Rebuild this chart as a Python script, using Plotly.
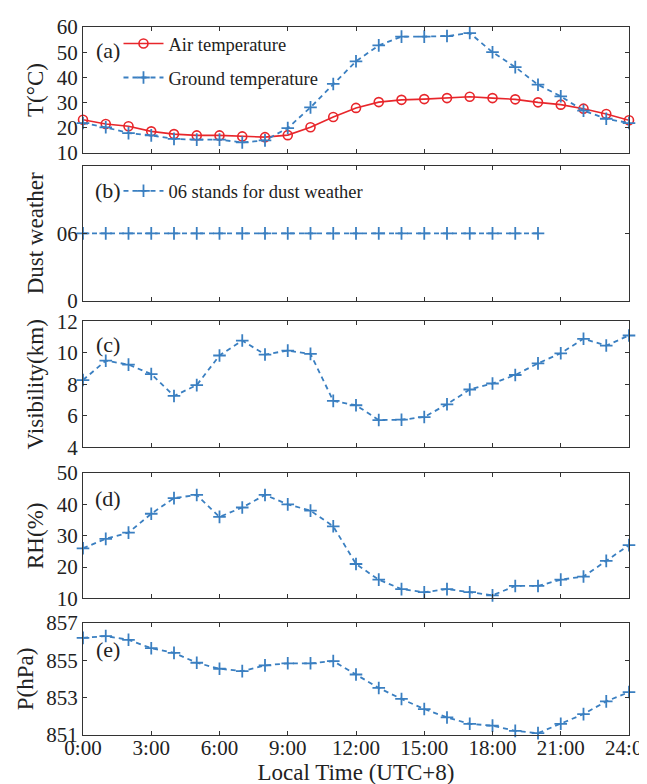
import plotly.graph_objects as go

hours = list(range(25))
air_temp = [23.2, 21.5, 20.6, 18.6, 17.5, 17.0, 17.0, 16.6, 16.3, 17.1, 20.2, 24.3, 27.9,
            30.2, 31.1, 31.4, 31.8, 32.3, 31.8, 31.3, 30.1, 29.2, 27.6, 25.5, 23.0]
ground_temp = [21.9, 20.2, 17.9, 17.0, 15.6, 15.3, 15.3, 14.2, 15.0, 19.9, 28.1, 37.4, 46.4,
               52.7, 56.2, 56.2, 56.4, 57.6, 50.0, 44.1, 37.1, 32.5, 26.8, 23.6, 21.9]
dust_hours = list(range(21))
dust_code = [6] * 21
visibility = [8.27, 9.5, 9.25, 8.65, 7.26, 7.95, 9.83, 10.78, 9.89, 10.14, 9.93, 6.95, 6.67,
              5.73, 5.75, 5.92, 6.73, 7.67, 8.05, 8.59, 9.33, 9.97, 10.89, 10.46, 11.1]
rh = [26, 29, 31, 37, 42, 43, 36, 39, 43, 40, 38, 33, 21, 16, 13, 12, 13, 12, 11, 14, 14, 16, 17, 22, 27]
pressure = [856.2, 856.3, 856.1, 855.65, 855.4, 854.87, 854.55, 854.42, 854.73, 854.84, 854.84,
            854.96, 854.24, 853.52, 852.93, 852.39, 851.94, 851.6, 851.5, 851.22, 851.1, 851.6,
            852.12, 852.8, 853.3]
x_tickvals = list(range(0, 25, 3))
x_ticktext = ["0:00", "3:00", "6:00", "9:00", "12:00", "15:00", "18:00", "21:00", "24:00"]

RED = "#E8262B"
BLUE = "#3A7FC1"
FONT = "Liberation Serif"
AX = "#333333"
TXT = "#222222"

fig = go.Figure()

dash_line = dict(color=BLUE, width=1.8, dash="5px,4px")
cross = dict(symbol="cross-thin", size=9, color=BLUE, line=dict(width=1.8, color=BLUE))

fig.add_trace(go.Scatter(x=hours, y=air_temp, mode="lines+markers", name="Air temperature",
                         line=dict(color=RED, width=1.6),
                         marker=dict(symbol="circle-open", size=9, color=RED, line=dict(width=1.6, color=RED)),
                         xaxis="x", yaxis="y", legend="legend", cliponaxis=False))
fig.add_trace(go.Scatter(x=hours, y=ground_temp, mode="lines+markers", name="Ground temperature",
                         line=dash_line, marker=cross, xaxis="x", yaxis="y", legend="legend2", cliponaxis=False))
fig.add_trace(go.Scatter(x=dust_hours, y=dust_code, mode="lines+markers", name="06 stands for dust weather",
                         line=dash_line, marker=cross, xaxis="x2", yaxis="y2", legend="legend3", cliponaxis=False))
fig.add_trace(go.Scatter(x=hours, y=visibility, mode="lines+markers", showlegend=False,
                         line=dash_line, marker=cross, xaxis="x3", yaxis="y3", cliponaxis=False))
fig.add_trace(go.Scatter(x=hours, y=rh, mode="lines+markers", showlegend=False,
                         line=dash_line, marker=cross, xaxis="x4", yaxis="y4", cliponaxis=False))
fig.add_trace(go.Scatter(x=hours, y=pressure, mode="lines+markers", showlegend=False,
                         line=dash_line, marker=cross, xaxis="x5", yaxis="y5", cliponaxis=False))

domains = [[0.822, 1.0], [0.6134, 0.8037], [0.4064, 0.5843], [0.1928, 0.3701], [0.0, 0.1582]]
yranges = [[10, 60], [0, 12], [4, 12], [10, 50], [851, 857]]
ytickvals = [[10, 20, 30, 40, 50, 60], [0, 6], [4, 6, 8, 10, 12], [10, 20, 30, 40, 50], [851, 853, 855, 857]]
yticktext = [["10", "20", "30", "40", "50", "60"], ["0", "06"], ["4", "6", "8", "10", "12"],
             ["10", "20", "30", "40", "50"], ["851", "853", "855", "857"]]
ytitles = ["T(°C)", "Dust weather", "Visibility(km)", "RH(%)", "P(hPa)"]

layout = {}
for i in range(5):
    sfx = "" if i == 0 else str(i + 1)
    last = i == 4
    layout["xaxis" + sfx] = dict(
        domain=[0, 1], anchor="y" + sfx, range=[0, 24], tickvals=x_tickvals, ticktext=x_ticktext,
        showticklabels=last, ticks="inside", ticklen=4, tickcolor=AX, showline=True, linecolor=AX,
        linewidth=1, mirror="ticks", showgrid=False, zeroline=False, ticklabelstandoff=-6,
        tickfont=dict(family=FONT, size=21, color=TXT),
        title=dict(text="Local Time (UTC+8)" if last else "", font=dict(family=FONT, size=23, color=TXT), standoff=2),
    )
    layout["yaxis" + sfx] = dict(
        domain=domains[i], anchor="x" + sfx, range=yranges[i], tickvals=ytickvals[i], ticktext=yticktext[i],
        ticks="inside", ticklen=4, tickcolor=AX, showline=True, linecolor=AX, linewidth=1, mirror="ticks",
        showgrid=False, zeroline=False, tickfont=dict(family=FONT, size=21, color=TXT),
        title=dict(text=ytitles[i], font=dict(family=FONT, size=23, color=TXT), standoff=6),
    )

labels = ["(a)", "(b)", "(c)", "(d)", "(e)"]
label_y = [0.812, 0.817, 0.814, 0.795, 0.762]
annotations = []
for i in range(5):
    sfx = "" if i == 0 else str(i + 1)
    annotations.append(dict(text=labels[i], xref="x" + sfx + " domain", yref="y" + sfx + " domain",
                            x=0.046, y=label_y[i], showarrow=False, xanchor="center", yanchor="middle",
                            font=dict(family=FONT, size=22, color=TXT)))

legend_common = dict(bgcolor="rgba(0,0,0,0)", font=dict(family=FONT, size=18.5, color=TXT),
                     xanchor="left", yanchor="middle", itemwidth=40)

fig.update_layout(
    width=647, height=784,
    margin=dict(l=75, r=26, t=19, b=57, autoexpand=False),
    paper_bgcolor="white", plot_bgcolor="white",
    font=dict(family=FONT, color=TXT),
    annotations=annotations,
    legend=dict(x=0.065, y=0.976, **legend_common),
    legend2=dict(x=0.065, y=0.928, **legend_common),
    legend3=dict(x=0.065, y=0.768, **legend_common),
    **layout,
)

fig.write_html("out.html")
